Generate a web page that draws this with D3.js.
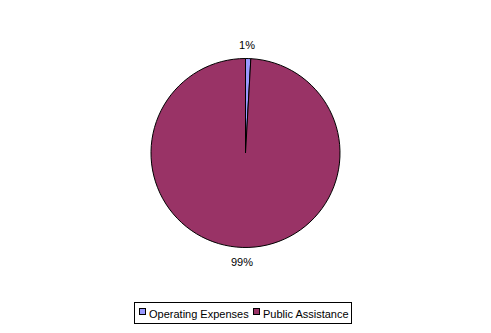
<!DOCTYPE html>
<html><head><meta charset="utf-8">
<script src="https://cdn.jsdelivr.net/npm/d3@7"></script>
<style>body{margin:0;background:#fff}svg{display:block}text{font-family:"Liberation Sans",Arial,sans-serif}</style>
</head><body><svg width="491" height="333"></svg>
<script>
const categories = ["Operating Expenses", "Public Assistance"];
const values = [0.9, 99.1];
const labels = ["1%", "99%"];
const colors = ["#9999FF", "#993366"];

const svg = d3.select("svg");
const cx = 245.5, cy = 153, r = 94.5;
const pie = d3.pie().sort(null).value(d => d)(values);
const arc = d3.arc().innerRadius(0).outerRadius(r);
const g = svg.append("g").attr("transform", `translate(${cx},${cy})`);
g.selectAll("path").data(pie).join("path")
  .attr("d", arc).attr("fill", (d,i) => colors[i])
  .attr("stroke", "#000").attr("stroke-width", 1);

const labelPos = [[1.5, -104], [-3.5, 113]];
g.selectAll("text.lbl").data(pie).join("text").attr("class","lbl")
  .attr("x", (d,i) => labelPos[i][0]).attr("y", (d,i) => labelPos[i][1])
  .attr("text-anchor","middle").attr("font-size", 11).text((d,i) => labels[i]);

// legend
const lg = svg.append("g");
lg.append("rect").attr("x", 134.5).attr("y", 302.5).attr("width", 217).attr("height", 21)
  .attr("fill", "#fff").attr("stroke", "#000");
const lx = [139, 253];
categories.forEach((c, i) => {
  lg.append("rect").attr("x", lx[i] + 0.5).attr("y", 308.5).attr("width", 6).attr("height", 6)
    .attr("fill", colors[i]).attr("stroke", "#000");
  lg.append("text").attr("x", lx[i] + 10).attr("y", 317.5).attr("font-size", 11).text(c);
});
</script></body></html>
